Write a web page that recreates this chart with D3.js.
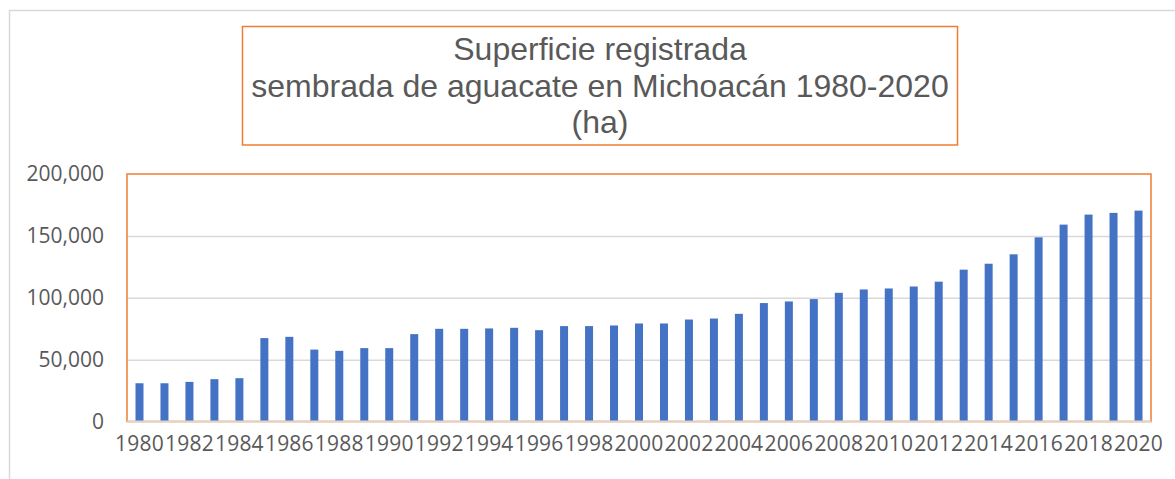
<!DOCTYPE html>
<html>
<head>
<meta charset="utf-8">
<script src="https://cdn.jsdelivr.net/npm/d3@7"></script>
<style>
  body { margin: 0; background: #fff; }
  svg { display: block; }
</style>
</head>
<body>
<svg width="1175" height="479"></svg>
<script>
// data (ha)
var years = d3.range(1980, 2021);
var superficie = [
  30900, 30900, 32000, 34200, 35000, 67400, 68400, 58100, 57100, 59300,
  59300, 70600, 74900, 74900, 75200, 75700, 73800, 77100, 77100, 77600,
  79200, 79200, 82400, 83200, 87000, 95700, 97000, 98900, 104000, 106700,
  107500, 109100, 113000, 122700, 127500, 135100, 148800, 159100, 167200, 168600,
  170400
];
var yTicks = [0, 50000, 100000, 150000, 200000];
var titleLines = ["Superficie registrada", "sembrada de aguacate en Michoac\u00e1n 1980-2020", "(ha)"];

var dset = years.map(function(y, i) { return {year: y, value: superficie[i]}; });

var svg = d3.select("svg");
var orange = "#ED7D31";
var grey = "#595959";

// outer chart frame
svg.append("rect")
  .attr("x", 9.5).attr("y", 10.5)
  .attr("width", 1200).attr("height", 500)
  .attr("fill", "none")
  .attr("stroke", "#d9d9d9")
  .attr("stroke-width", 1.5);

// title box
svg.append("rect")
  .attr("x", 242.5).attr("y", 26.5)
  .attr("width", 715).attr("height", 118.5)
  .attr("fill", "none")
  .attr("stroke", orange)
  .attr("stroke-width", 1.5);

svg.append("g").selectAll("text")
  .data(titleLines)
  .enter()
  .append("text")
  .attr("x", 600)
  .attr("y", function(d, i) { return 60 + i * 36.5; })
  .attr("text-anchor", "middle")
  .attr("font-family", "'Liberation Sans', Arial, sans-serif")
  .attr("font-size", 32)
  .attr("fill", grey)
  .text(function(d) { return d; });

var pLeft = 127, pRight = 1151, pTop = 174, pBottom = 421.5;

var xScale = d3.scaleBand()
  .domain(years)
  .range([pLeft, pRight])
  .paddingInner(0.68)
  .paddingOuter(0.34);

var yScale = d3.scaleLinear()
  .domain([0, 200000])
  .range([pBottom, pTop]);

// gridlines
svg.append("g")
  .attr("transform", "translate(" + pLeft + ",0)")
  .call(d3.axisLeft(yScale).tickValues(yTicks.slice(1, 4)).tickSize(-(pRight - pLeft)).tickFormat(""))
  .call(function(g) { g.select(".domain").remove(); })
  .selectAll("line")
  .attr("stroke", "#d9d9d9")
  .attr("stroke-width", 1.5);

// plot area border
svg.append("rect")
  .attr("x", pLeft).attr("y", pTop)
  .attr("width", pRight - pLeft).attr("height", pBottom - pTop)
  .attr("fill", "none")
  .attr("stroke", orange)
  .attr("stroke-width", 1.5);

// bars
svg.append("g")
  .selectAll("rect")
  .data(dset)
  .enter()
  .append("rect")
  .attr("x", function(d) { return xScale(d.year); })
  .attr("y", function(d) { return yScale(d.value); })
  .attr("width", xScale.bandwidth())
  .attr("height", function(d) { return yScale(0) - yScale(d.value); })
  .attr("fill", "#4472C4");

// category axis line
svg.append("line")
  .attr("x1", pLeft).attr("x2", pRight)
  .attr("y1", pBottom).attr("y2", pBottom)
  .attr("stroke", "#e2d3c8")
  .attr("stroke-width", 2);

// y axis labels
var yAxis = svg.append("g")
  .attr("transform", "translate(104,0)")
  .call(d3.axisLeft(yScale).tickValues(yTicks).tickSize(0).tickPadding(0).tickFormat(d3.format(",")));
yAxis.select(".domain").remove();
yAxis.selectAll("text")
  .attr("font-family", "'Open Sans', sans-serif")
  .attr("font-size", 21)
  .attr("fill", grey);

// x axis labels, every other year
var xAxis = svg.append("g")
  .attr("transform", "translate(0," + pBottom + ")")
  .call(d3.axisBottom(xScale).tickValues(years.filter(function(y) { return y % 2 === 0; })).tickSize(0).tickPadding(15));
xAxis.select(".domain").remove();
xAxis.selectAll("text")
  .attr("font-family", "'Open Sans', sans-serif")
  .attr("font-size", 21)
  .attr("letter-spacing", 0.2)
  .attr("fill", grey);
</script>
</body>
</html>
